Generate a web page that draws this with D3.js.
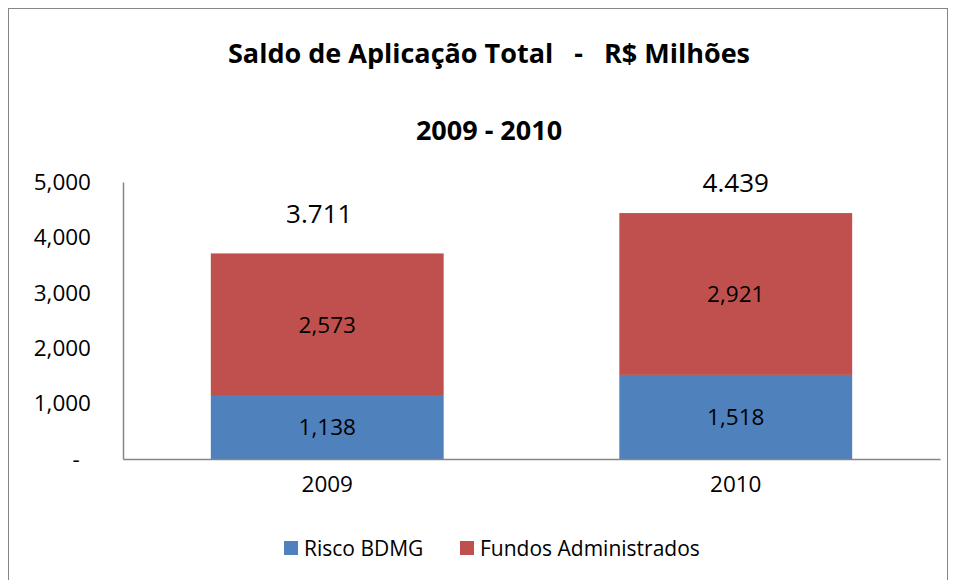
<!DOCTYPE html>
<html>
<head>
<meta charset="utf-8">
<script src="https://cdn.jsdelivr.net/npm/d3@7"></script>
<style>
  body { margin: 0; background: #fff; }
  svg { font-family: "Open Sans", sans-serif; }
</style>
</head>
<body>
<svg width="956" height="580"></svg>
<script>
// Chart data
const years = ["2009", "2010"];
const riscoBDMG = [1138, 1518];
const fundosAdministrados = [2573, 2921];
const totalLabels = ["3.711", "4.439"];
const yTicks = [0, 1000, 2000, 3000, 4000, 5000];
const seriesNames = ["Risco BDMG", "Fundos Administrados"];
const colors = ["#4F81BD", "#C0504D"];

const svg = d3.select("svg");
const margin = {top: 182, right: 16, bottom: 121, left: 123};
const width = 956, height = 580;
const font = "'Open Sans', sans-serif";

// outer frame
svg.append("rect")
    .attr("x", 8.5).attr("y", 8.5)
    .attr("width", 939).attr("height", 580)
    .attr("fill", "none").attr("stroke", "#868686").attr("stroke-width", 1);

// title
svg.append("text")
    .attr("x", 489).attr("y", 63)
    .attr("text-anchor", "middle")
    .attr("font-size", 27).attr("font-weight", "bold")
    .attr("xml:space", "preserve")
    .text("Saldo de Aplicação Total   -   R$ Milhões");
svg.append("text")
    .attr("x", 489).attr("y", 140)
    .attr("text-anchor", "middle")
    .attr("font-size", 27).attr("font-weight", "bold")
    .text("2009 - 2010");

const x = d3.scaleBand()
    .domain(years)
    .range([margin.left, width - margin.right])
    .paddingInner(0.43)
    .paddingOuter(0.215);

const y = d3.scaleLinear()
    .domain([0, 5000])
    .range([height - margin.bottom, margin.top]);

// stacked data
const rows = years.map((yr, i) => ({year: yr, risco: riscoBDMG[i], fundos: fundosAdministrados[i]}));
const stack = d3.stack().keys(["risco", "fundos"])(rows);

stack.forEach((layer, k) => {
    const g = svg.append("g");
    g.selectAll("rect")
        .data(layer)
        .join("rect")
        .attr("x", d => x(d.data.year))
        .attr("y", d => y(d[1]))
        .attr("width", x.bandwidth())
        .attr("height", d => y(d[0]) - y(d[1]))
        .attr("fill", colors[k]);
    g.selectAll("text")
        .data(layer)
        .join("text")
        .attr("x", d => x(d.data.year) + x.bandwidth() / 2)
        .attr("y", d => (y(d[0]) + y(d[1])) / 2 + 8)
        .attr("text-anchor", "middle")
        .attr("font-size", 22.5)
        .attr("fill", "#000")
        .text(d => d3.format(",")(d[1] - d[0]));
});

// totals above bars
svg.append("g").selectAll("text")
    .data(rows)
    .join("text")
    .attr("x", (d, i) => x(d.year) + x.bandwidth() / 2 - (i === 0 ? 8 : 0))
    .attr("y", (d, i) => y(d.risco + d.fundos) - (i === 0 ? 30 : 21))
    .attr("text-anchor", "middle")
    .attr("font-size", 26)
    .text((d, i) => totalLabels[i]);

// y axis
const yAxis = svg.append("g")
    .attr("transform", `translate(${margin.left},0)`)
    .call(d3.axisLeft(y).tickValues(yTicks).tickSize(0).tickPadding(32)
        .tickFormat(d => d === 0 ? "-" : d3.format(",")(d)));
yAxis.select(".domain").attr("stroke", "#868686").attr("stroke-width", 1.5);
yAxis.selectAll("text").attr("font-size", 22.5).attr("fill", "#000")
    .attr("font-family", font)
    .attr("text-anchor", d => d === 0 ? "middle" : "end")
    .attr("dx", d => d === 0 ? -15 : 0);

// x axis
const xAxis = svg.append("g")
    .attr("transform", `translate(0,${height - margin.bottom})`)
    .call(d3.axisBottom(x).tickSize(0).tickPadding(17));
xAxis.select(".domain").attr("stroke", "#868686").attr("stroke-width", 1.5);
xAxis.selectAll("text").attr("font-size", 22.5).attr("fill", "#000")
    .attr("font-family", font);

// legend
const legendX = [284, 460];
const legend = svg.append("g").selectAll("g")
    .data(seriesNames)
    .join("g")
    .attr("transform", (d, i) => `translate(${legendX[i]},541)`);
legend.append("rect")
    .attr("width", 14).attr("height", 14)
    .attr("fill", (d, i) => colors[i]);
legend.append("text")
    .attr("x", 20).attr("y", 15)
    .attr("font-size", 21)
    .text(d => d);
</script>
</body>
</html>
